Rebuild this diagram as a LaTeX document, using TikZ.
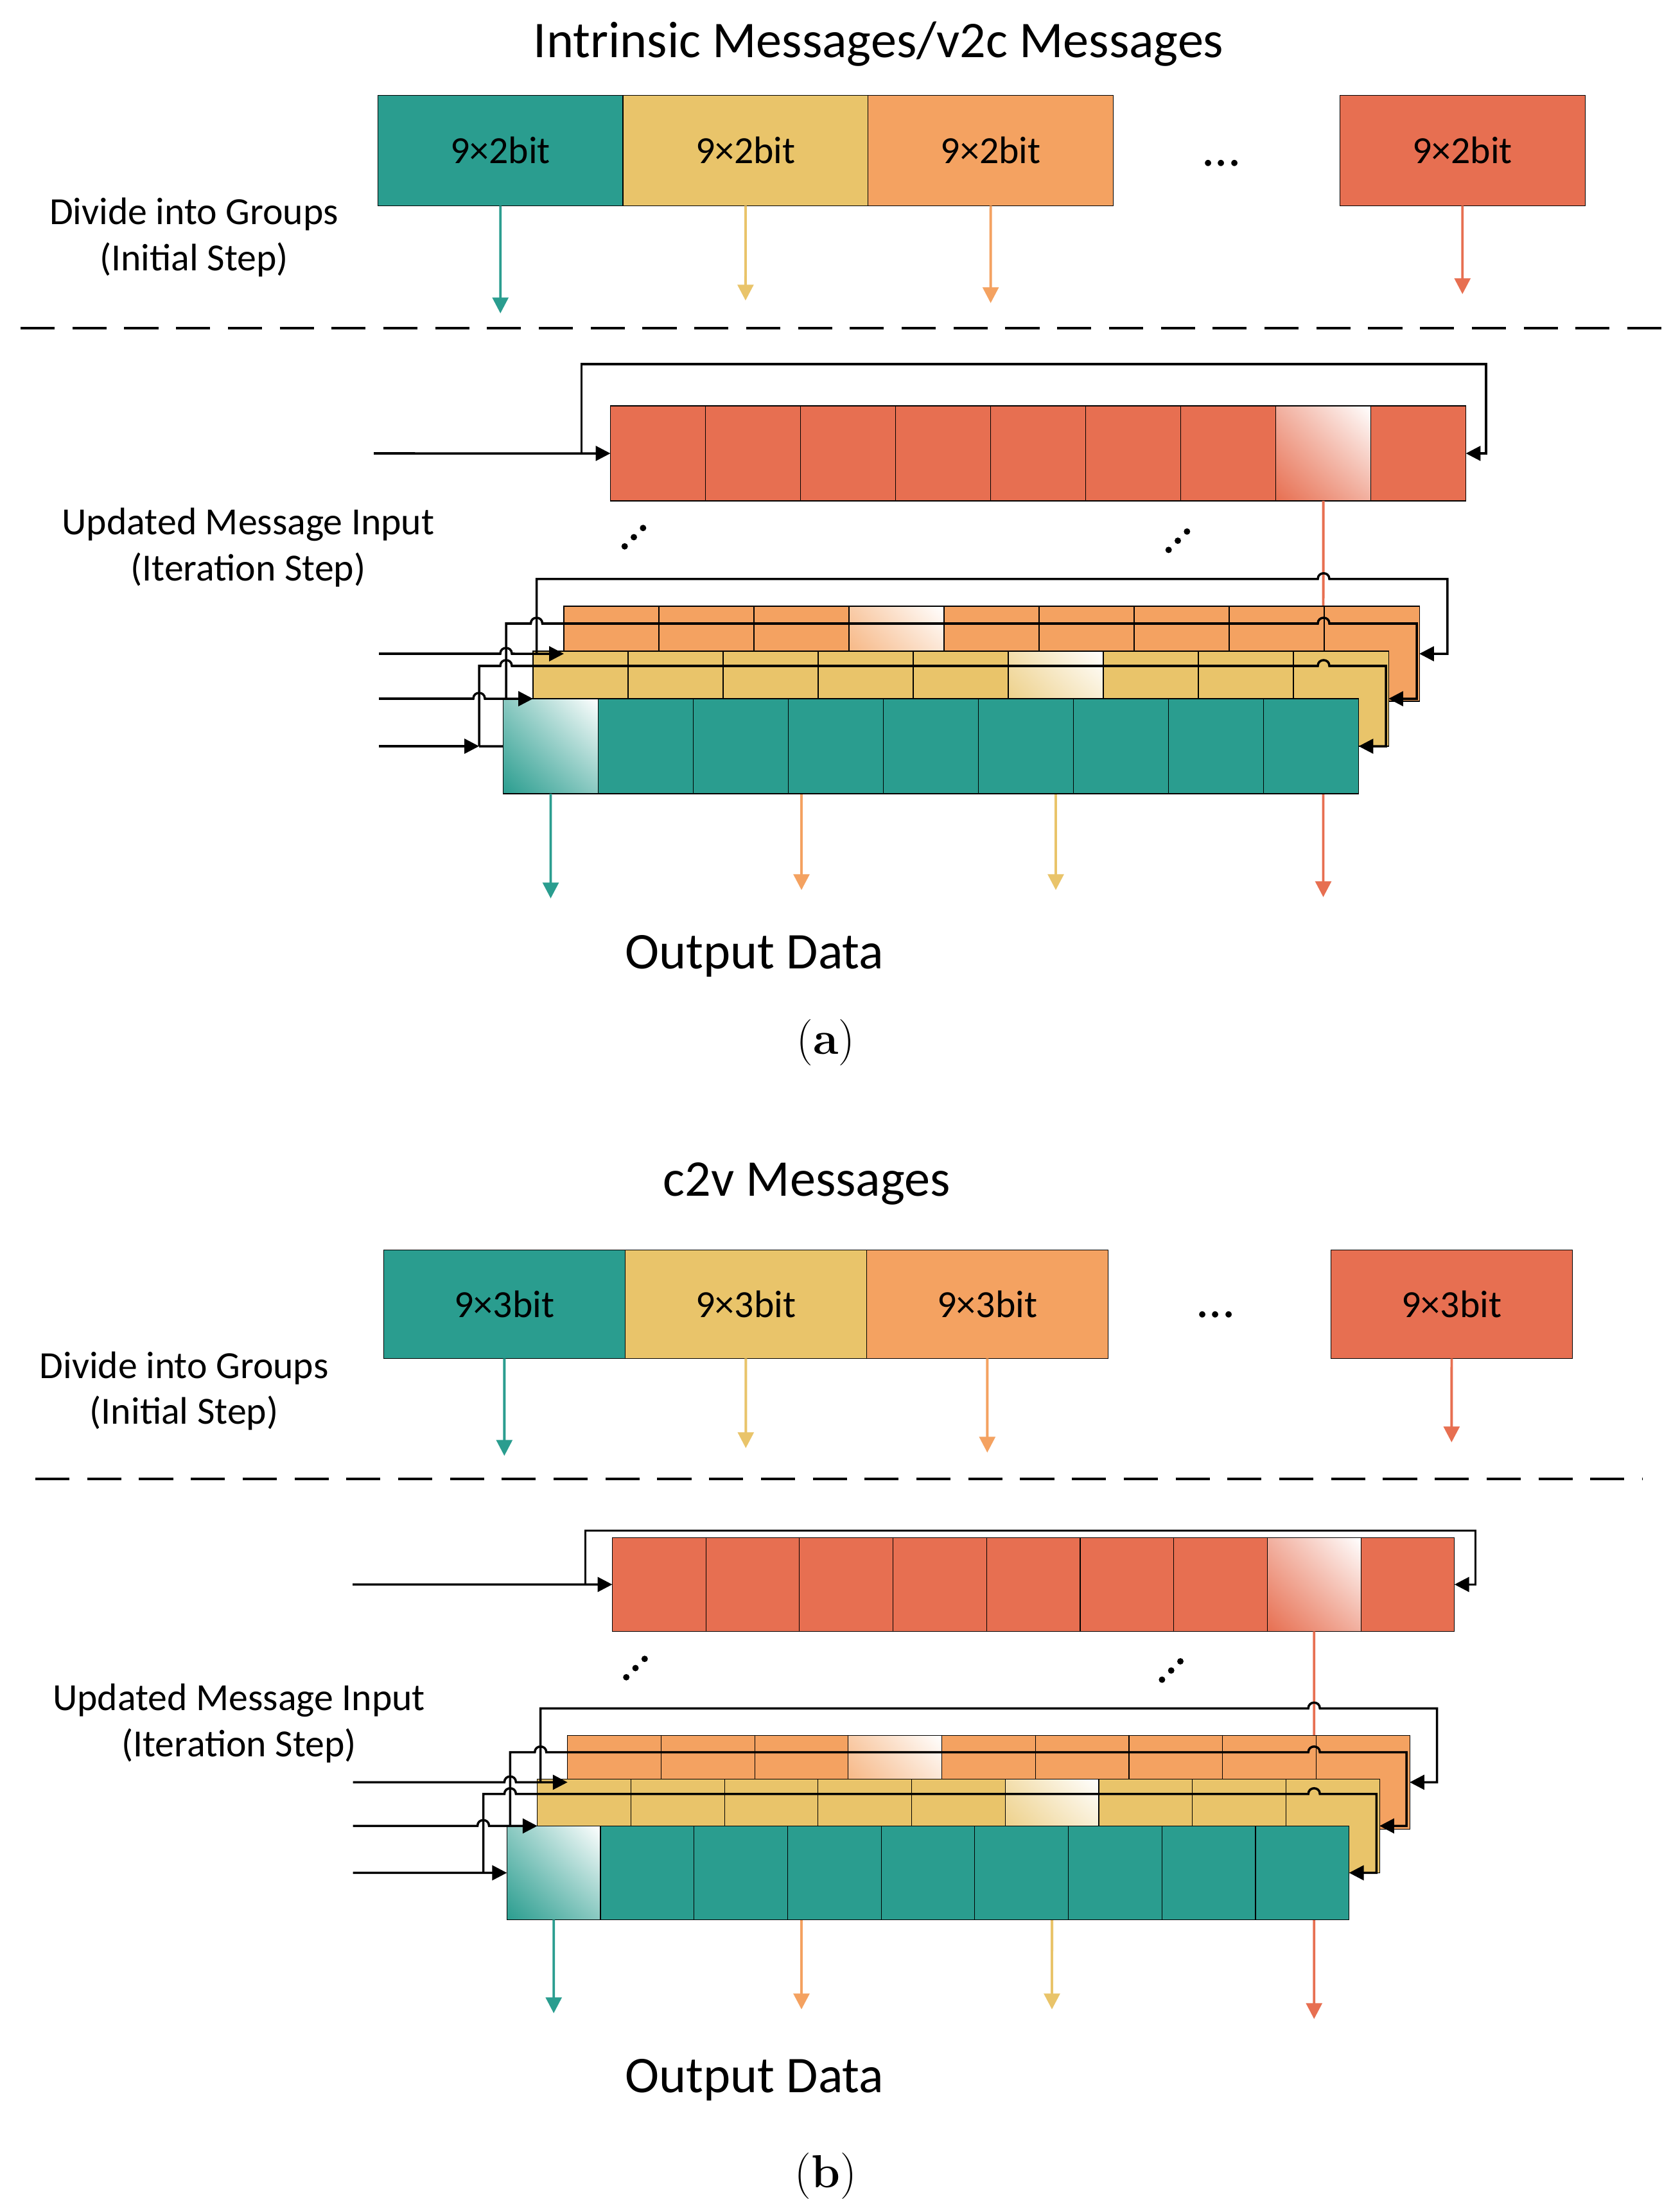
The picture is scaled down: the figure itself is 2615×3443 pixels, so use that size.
\documentclass[tikz,border=0pt]{standalone}
\usepackage{fontspec}
\newfontfamily\carlito{Carlito}
\usetikzlibrary{arrows.meta,shadings}
\definecolor{cT}{HTML}{2A9D8F}
\definecolor{cY}{HTML}{E9C46A}
\definecolor{cO}{HTML}{F4A261}
\definecolor{cR}{HTML}{E76F51}
\tikzset{
  every node/.style={inner sep=0pt, outer sep=0pt},
  cellA/.style={draw=black, line width=0.35pt, minimum width=1.48cm, minimum height=1.48cm, anchor=north west},
  cellB/.style={draw=black, line width=0.35pt, minimum width=1.457cm, minimum height=1.46cm, anchor=north west},
  hl/.style={shade, lower left=#1, upper right=white, upper left=#1!55!white, lower right=#1!55!white},
  lab/.style={font=\carlito\fontsize{17}{20}\selectfont, anchor=base},
  ttl/.style={font=\carlito\fontsize{22.8}{27}\selectfont, anchor=base},
  topA/.style={draw=black, line width=0.4pt, minimum width=3.817cm, minimum height=1.72cm, anchor=north west, font=\carlito\fontsize{17}{20}\selectfont},
  topB/.style={draw=black, line width=0.4pt, minimum width=3.76cm, minimum height=1.69cm, anchor=north west, font=\carlito\fontsize{17}{20}\selectfont},
  lp/.style={line width=1pt, line join=miter},
  lpa/.style={lp, -{Triangle[length=6.5pt,width=6.5pt]}},
  carr/.style={line width=1.1pt, -{Triangle[length=7pt,width=7pt]}},
  sepline/.style={line width=1.1pt, dash pattern=on 15.1pt off 7.85pt},
  hdots/.style={font=\carlito\fontsize{22.8}{27}\selectfont, anchor=base},
  sub/.style={font=\fontsize{20.5}{24}\selectfont, anchor=center}
}
\begin{document}
\begin{tikzpicture}[x=0.01cm, y=-0.01cm]
\fill[white] (0,0) rectangle (2615,3443);
\useasboundingbox (0,0) rectangle (2615,3443);

%%%%%%%%%%%%%%%%%%%% (a) %%%%%%%%%%%%%%%%%%%%
\node[ttl] (ta) at (1368,90) {Intrinsic Messages/v2c Messages};
\node[topA, fill=cT] (a1) at (588.3,148.3) {9×2bit};
\node[topA, fill=cY] (a2) at (970,148.3) {9×2bit};
\node[topA, fill=cO] (a3) at (1351.7,148.3) {9×2bit};
\node[topA, fill=cR] (a4) at (2086.3,148.3) {9×2bit};
\node[hdots] (adots) at (1902,259) {...};
\node[lab] (adiv1) at (302,350) {Divide into Groups};
\node[lab] (adiv2) at (302,421.7) {(Initial Step)};
\coordinate (a1e) at (779.2,488);
\coordinate (a2e) at (1160.9,468);
\coordinate (a3e) at (1542.6,472);
\coordinate (a4e) at (2277.2,458);
\draw[carr, cT] (a1.south) -- (a1e);
\draw[carr, cY] (a2.south) -- (a2e);
\draw[carr, cO] (a3.south) -- (a3e);
\draw[carr, cR] (a4.south) -- (a4e);
\coordinate (as1) at (32,510.7);
\coordinate (as2) at (2591,510.7);
\draw[sepline] (as1) -- (as2);

\node[lab] (aupd1) at (386.5,832) {Updated Message Input};
\node[lab] (aupd2) at (386.5,904) {(Iteration Step)};

% red register
\foreach \i in {0,...,8} \node[cellA, fill=cR] (aR\i) at ({950.5+148*\i},632) {};
\node[cellA, hl=cR] (aRh) at ({950.5+148*7},632) {};
\coordinate (aI0) at (582,706);
\coordinate (aJ0) at (905.5,706);
\draw[lpa] (aI0) -- (aR0.west);
\draw[lpa] (aJ0) |- (2314,567) |- (aR8.east);
\foreach \k in {-1,0,1} {
  \fill ({987+14.3*\k},{836.5-14.3*\k}) circle[radius=5];
  \fill ({1834+14.3*\k},{842-14.3*\k}) circle[radius=5];
}

% lines behind stack
\coordinate (aRe) at (2060.5,1397);
\coordinate (aOe) at (1248,1386);
\coordinate (aYe) at (1644,1386);
\coordinate (aTe) at (857.5,1399);
\draw[carr, cR] (aRh.south) -- (aRe);

% orange
\foreach \i in {0,...,8} \node[cellA, fill=cO] (aO\i) at ({878+148*\i},944) {};
\node[cellA, hl=cO] (aOh) at ({878+148*3},944) {};
\draw[carr, cO] (aO2.south) -- (aOe);
% yellow
\foreach \i in {0,...,8} \node[cellA, fill=cY] (aY\i) at ({830+148*\i},1014) {};
\node[cellA, hl=cY] (aYh) at ({830+148*5},1014) {};
\draw[carr, cY] (aY5.south) -- (aYe);
% teal
\foreach \i in {0,...,8} \node[cellA, fill=cT] (aT\i) at ({783.5+148*\i},1088) {};
\node[cellA, hl=cT] (aTh) at (783.5,1088) {};
\draw[carr, cT] (aTh.south) -- (aTe);

% loops
\coordinate (aJ1) at (835.5,1018);
\coordinate (aJ2) at (788,1088);
\coordinate (aJ3) at (746,1162);
\coordinate (aI1) at (590,1018);
\coordinate (aI2) at (590,1088);
\coordinate (aI3) at (590,1162);
\draw[lpa] (aJ1) -- (835.5,901.7) -- (2052,901.7) .. controls (2052,889.7) and (2070,889.7) .. (2070,901.7) -- (2253.8,901.7) |- (aO8.east);
\draw[lpa] (aJ2) -- (788,971) -- (826.5,971) .. controls (826.5,959) and (844.5,959) .. (844.5,971) -- (2052,971) .. controls (2052,959) and (2070,959) .. (2070,971) -- (2206,971) |- (aY8.east);
\draw[lpa] (aJ3) -- (746,1037) -- (779,1037) .. controls (779,1025) and (797,1025) .. (797,1037) -- (2052,1037) .. controls (2052,1025) and (2070,1025) .. (2070,1037) -- (2158,1037) |- (aT8.east);
\draw[lpa] (aI1) -- (779,1018) .. controls (779,1006) and (797,1006) .. (797,1018) -- (aO0.west);
\draw[lpa] (aI2) -- (737,1088) .. controls (737,1076) and (755,1076) .. (755,1088) -- (aY0.west);
\draw[lpa] (aI3) -- (aJ3);
\draw[lp] (aJ3) -- (aT0.west);

\node[ttl] (aout) at (1175,1508) {Output Data};
\node[sub] (acap) at (1286,1623) {(\textbf{a})};

%%%%%%%%%%%%%%%%%%%% (b) %%%%%%%%%%%%%%%%%%%%
\node[ttl] (tb) at (1256,1862) {c2v Messages};
\node[topB, fill=cT] (b1) at (597.3,1946.3) {9×3bit};
\node[topB, fill=cY] (b2) at (973.3,1946.3) {9×3bit};
\node[topB, fill=cO] (b3) at (1349.3,1946.3) {9×3bit};
\node[topB, fill=cR] (b4) at (2072.3,1946.3) {9×3bit};
\node[hdots] (bdots) at (1893,2051) {...};
\node[lab] (bdiv1) at (286.6,2146) {Divide into Groups};
\node[lab] (bdiv2) at (286.6,2217.7) {(Initial Step)};
\coordinate (b1e) at (785.3,2267);
\coordinate (b2e) at (1161.3,2255);
\coordinate (b3e) at (1537.3,2262);
\coordinate (b4e) at (2260.3,2246);
\draw[carr, cT] (b1.south) -- (b1e);
\draw[carr, cY] (b2.south) -- (b2e);
\draw[carr, cO] (b3.south) -- (b3e);
\draw[carr, cR] (b4.south) -- (b4e);
\coordinate (bs1) at (55,2303);
\coordinate (bs2) at (2558,2303);
\draw[sepline] (bs1) -- (bs2);

\node[lab] (bupd1) at (372,2663) {Updated Message Input};
\node[lab] (bupd2) at (372,2735) {(Iteration Step)};

% red register
\foreach \i in {0,...,8} \node[cellB, fill=cR] (bR\i) at ({953.4+145.7*\i},2394.3) {};
\node[cellB, hl=cR] (bRh) at ({953.4+145.7*7},2394.3) {};
\coordinate (bI0) at (549,2467.3);
\coordinate (bJ0) at (911.7,2467.3);
\draw[lpa] (bI0) -- (bR0.west);
\draw[lpa] (bJ0) |- (2297.7,2383.5) |- (bR8.east);
\foreach \k in {-1,0,1} {
  \fill ({989.5+14.3*\k},{2597.5-14.3*\k}) circle[radius=5];
  \fill ({1823.7+14.3*\k},{2601.3-14.3*\k}) circle[radius=5];
}

\coordinate (bRe) at (2046.2,3144);
\coordinate (bOe) at (1248,3129);
\coordinate (bYe) at (1638,3129);
\coordinate (bTe) at (862.2,3135);
\draw[carr, cR] (bRh.south) -- (bRe);

\foreach \i in {0,...,8} \node[cellB, fill=cO] (bO\i) at ({883.7+145.7*\i},2702.3) {};
\node[cellB, hl=cO] (bOh) at ({883.7+145.7*3},2702.3) {};
\draw[carr, cO] (bO2.south) -- (bOe);
\foreach \i in {0,...,8} \node[cellB, fill=cY] (bY\i) at ({836.7+145.7*\i},2770.3) {};
\node[cellB, hl=cY] (bYh) at ({836.7+145.7*5},2770.3) {};
\draw[carr, cY] (bY5.south) -- (bYe);
\foreach \i in {0,...,8} \node[cellB, fill=cT] (bT\i) at ({789.3+145.7*\i},2843.3) {};
\node[cellB, hl=cT] (bTh) at (789.3,2843.3) {};
\draw[carr, cT] (bTh.south) -- (bTe);

\coordinate (bJ1) at (841.7,2775.3);
\coordinate (bJ2) at (794.4,2843.3);
\coordinate (bJ3) at (752.5,2916.3);
\coordinate (bI1) at (549.5,2775.3);
\coordinate (bI2) at (549.5,2843.3);
\coordinate (bI3) at (549.5,2916.3);
\draw[lpa] (bJ1) -- (841.7,2660.3) -- (2037.2,2660.3) .. controls (2037.2,2648.3) and (2055.2,2648.3) .. (2055.2,2660.3) -- (2237.7,2660.3) |- (bO8.east);
\draw[lpa] (bJ2) -- (794.4,2728.7) -- (832.7,2728.7) .. controls (832.7,2716.7) and (850.7,2716.7) .. (850.7,2728.7) -- (2037.2,2728.7) .. controls (2037.2,2716.7) and (2055.2,2716.7) .. (2055.2,2728.7) -- (2190,2728.7) |- (bY8.east);
\draw[lpa] (bJ3) -- (752.5,2793.7) -- (785.4,2793.7) .. controls (785.4,2781.7) and (803.4,2781.7) .. (803.4,2793.7) -- (2037.2,2793.7) .. controls (2037.2,2781.7) and (2055.2,2781.7) .. (2055.2,2793.7) -- (2143.3,2793.7) |- (bT8.east);
\draw[lpa] (bI1) -- (785.4,2775.3) .. controls (785.4,2763.3) and (803.4,2763.3) .. (803.4,2775.3) -- (bO0.west);
\draw[lpa] (bI2) -- (743.5,2843.3) .. controls (743.5,2831.3) and (761.5,2831.3) .. (761.5,2843.3) -- (bY0.west);
\draw[lpa] (bI3) -- (bT0.west);

\node[ttl] (bout) at (1175,3258) {Output Data};
\node[sub] (bcap) at (1286,3388) {(\textbf{b})};
\end{tikzpicture}
\end{document}
